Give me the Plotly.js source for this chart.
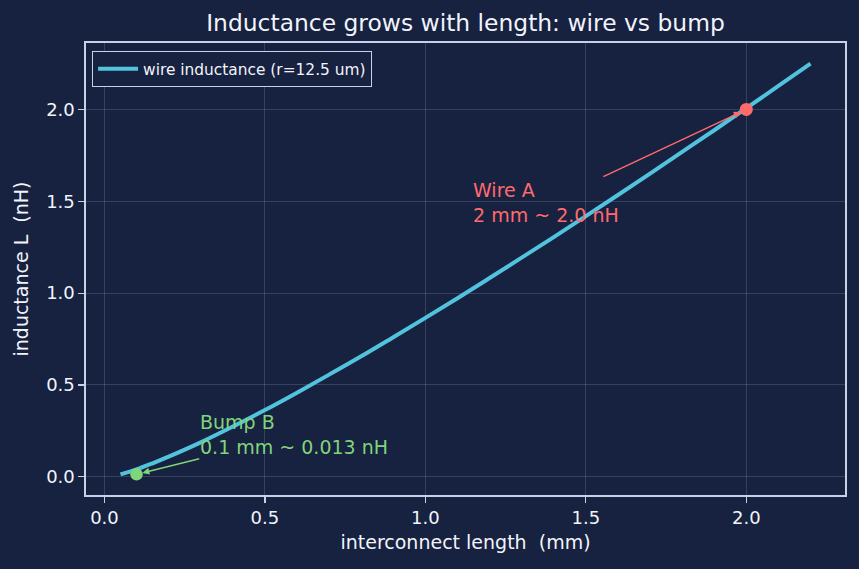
<!DOCTYPE html>
<html>
<head>
<meta charset="utf-8">
<script src="https://cdn.plot.ly/plotly-3.0.1.min.js"></script>
<style>
  html, body { margin: 0; padding: 0; background: #172140; }
  #chart { width: 859px; height: 569px; }
</style>
</head>
<body>
<div id="chart"></div>
<script>
// Wire inductance versus interconnect length (r = 12.5 um)
const lengthMm = [0.05, 0.1, 0.15, 0.2, 0.3, 0.4, 0.5, 0.6, 0.7, 0.8, 0.9, 1.0,
                  1.1, 1.2, 1.3, 1.4, 1.5, 1.6, 1.7, 1.8, 1.9, 2.0, 2.1, 2.2];
const inductanceNh = [0.013, 0.040, 0.073, 0.109, 0.187, 0.273, 0.363, 0.458, 0.556, 0.656, 0.760, 0.865,
                      0.972, 1.082, 1.193, 1.305, 1.419, 1.534, 1.651, 1.769, 1.887, 2.007, 2.128, 2.250];

// Highlighted cases
const wireA = { x: 2.0, y: 2.0, label: "Wire A<br>2 mm ~ 2.0 nH" };
const bumpB = { x: 0.1, y: 0.013, label: "Bump B<br>0.1 mm ~ 0.013 nH" };

const xTicks = [0.0, 0.5, 1.0, 1.5, 2.0];
const yTicks = [0.0, 0.5, 1.0, 1.5, 2.0];

const BG = "#172140";
const FG = "#f2f4fa";
const SPINE = "#c9d1e6";
const GRID = "rgba(200,210,235,0.18)";
const CYAN = "#52c3dc";
const RED = "#ff6b6b";
const GREEN = "#80d47a";
const FONT = "DejaVu Sans, sans-serif";

const traces = [
  {
    x: lengthMm, y: inductanceNh, type: "scatter", mode: "lines",
    name: "wire inductance (r=12.5 um)",
    line: { color: CYAN, width: 4, shape: "spline" }
  },
  {
    x: [wireA.x], y: [wireA.y], type: "scatter", mode: "markers",
    marker: { color: RED, size: 13 }, showlegend: false, hoverinfo: "skip"
  },
  {
    x: [bumpB.x], y: [bumpB.y], type: "scatter", mode: "markers",
    marker: { color: GREEN, size: 12.5 }, showlegend: false, hoverinfo: "skip"
  }
];

const axisCommon = {
  showline: true, mirror: true, linecolor: SPINE, linewidth: 1.6,
  ticks: "outside", ticklen: 6, tickwidth: 1.2, tickcolor: SPINE,
  showgrid: true, gridcolor: GRID, gridwidth: 1,
  zeroline: false,
  tickfont: { family: FONT, size: 18, color: FG },
  tickformat: ".1f"
};

const layout = {
  width: 859, height: 569,
  paper_bgcolor: BG, plot_bgcolor: BG,
  margin: { l: 86, r: 14, t: 43, b: 74 },
  font: { family: FONT, color: FG },
  title: {
    text: "Inductance grows with length: wire vs bump",
    font: { family: FONT, size: 23.4, color: FG },
    x: 0.5, xref: "paper", y: 1 - 23 / 569, yref: "container", yanchor: "middle"
  },
  xaxis: Object.assign({}, axisCommon, {
    range: [-0.0575, 2.3075], tickvals: xTicks,
    title: { text: "interconnect length\u00a0 (mm)", font: { family: FONT, size: 19, color: FG }, standoff: 8 }
  }),
  yaxis: Object.assign({}, axisCommon, {
    range: [-0.0995, 2.362], tickvals: yTicks,
    title: { text: "inductance L\u00a0 (nH)", font: { family: FONT, size: 19, color: FG }, standoff: 12 }
  }),
  showlegend: true,
  legend: {
    x: 0.008, y: 0.982, xanchor: "left", yanchor: "top",
    bgcolor: BG, bordercolor: SPINE, borderwidth: 1,
    font: { family: FONT, size: 15.4, color: FG },
    itemwidth: 40, tracegroupgap: 0
  },
  annotations: [
    {
      x: wireA.x, y: wireA.y, ax: 1.55, ay: 1.63, xref: "x", yref: "y", axref: "x", ayref: "y",
      text: "", showarrow: true, arrowhead: 2, arrowsize: 1, arrowwidth: 1.4,
      arrowcolor: RED, standoff: 6
    },
    {
      x: 1.15, y: 1.4, xref: "x", yref: "y", xanchor: "left", yanchor: "bottom",
      text: wireA.label, showarrow: false, align: "left",
      font: { family: FONT, size: 19, color: RED }, yshift: -8, xshift: -3
    },
    {
      x: bumpB.x, y: bumpB.y, ax: 0.3, ay: 0.1, xref: "x", yref: "y", axref: "x", ayref: "y",
      text: "", showarrow: true, arrowhead: 2, arrowsize: 1, arrowwidth: 1.4,
      arrowcolor: GREEN, standoff: 6
    },
    {
      x: 0.3, y: 0.14, xref: "x", yref: "y", xanchor: "left", yanchor: "bottom",
      text: bumpB.label, showarrow: false, align: "left",
      font: { family: FONT, size: 19, color: GREEN }, yshift: -9, xshift: -3
    }
  ]
};

Plotly.newPlot("chart", traces, layout, { displayModeBar: false, staticPlot: true });
</script>
</body>
</html>
